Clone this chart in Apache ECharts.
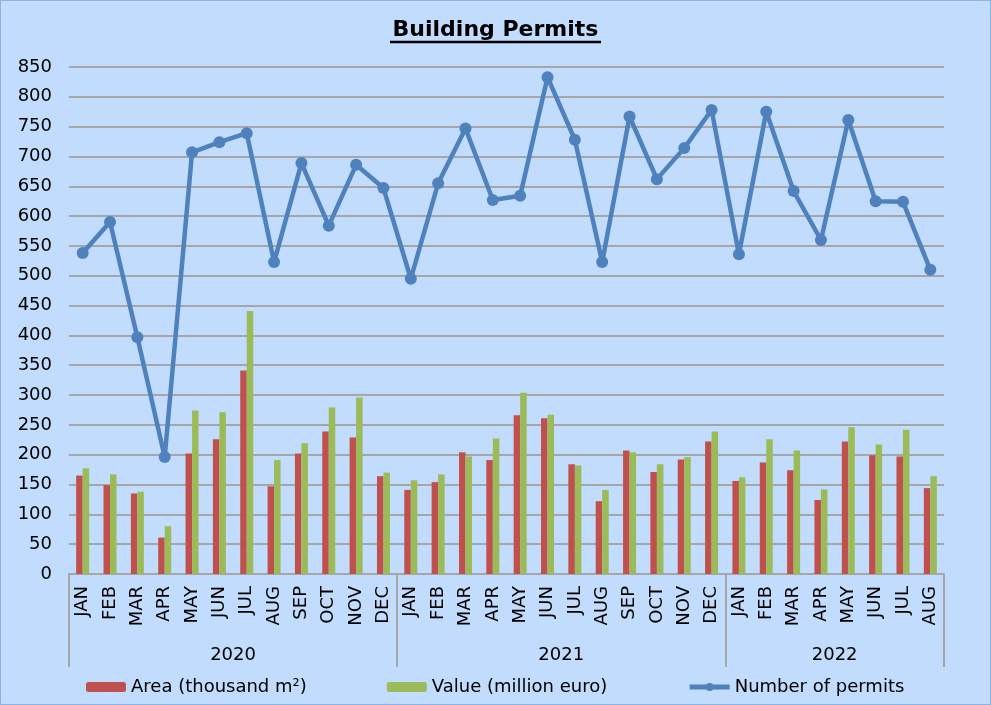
<!DOCTYPE html>
<html>
<head>
<meta charset="utf-8">
<script src="https://cdn.jsdelivr.net/npm/echarts@6/dist/echarts.min.js"></script>
<style>
  html, body { margin: 0; padding: 0; background: #C1DCFC; }
  #figure { width: 991px; height: 705px; box-sizing: border-box; border: 1px solid #8DB3E2; background: #C1DCFC; }
</style>
</head>
<body>
<div id="figure"></div>
<script>
var months = ['JAN', 'FEB', 'MAR', 'APR', 'MAY', 'JUN', 'JUL', 'AUG', 'SEP', 'OCT', 'NOV', 'DEC',
              'JAN', 'FEB', 'MAR', 'APR', 'MAY', 'JUN', 'JUL', 'AUG', 'SEP', 'OCT', 'NOV', 'DEC',
              'JAN', 'FEB', 'MAR', 'APR', 'MAY', 'JUN', 'JUL', 'AUG'];
var years = ['2020', '2021', '2022'];
var yearMonths = [12, 12, 8];

var area = [165, 149, 135, 61, 202, 226, 341, 147, 202, 239, 229, 164,
            141, 154, 204, 191, 266, 261, 184, 122, 207, 171, 192, 222,
            156, 187, 174, 124, 222, 199, 197, 144];
var value = [177, 167, 138, 80, 274, 271, 441, 191, 219, 279, 296, 170,
             157, 167, 197, 227, 304, 267, 182, 141, 204, 184, 196, 239,
             162, 226, 207, 142, 246, 217, 242, 164];
var permits = [538, 590, 397, 196, 707, 724, 739, 523, 689, 584, 686, 647,
               495, 655, 747, 627, 634, 833, 728, 523, 767, 662, 714, 778,
               536, 775, 642, 560, 761, 625, 624, 510];

// year group boundaries and centres on a 0..32 scale
var bounds = [0], centers = [], yearAt = {};
for (var i = 0; i < yearMonths.length; i++) {
    var start = bounds[bounds.length - 1];
    bounds.push(start + yearMonths[i]);
    centers.push(start + yearMonths[i] / 2);
    yearAt[start + yearMonths[i] / 2] = years[i];
}

var font = 'Verdana, "DejaVu Sans", sans-serif';
var gray = '#A6A6A6';

var figure = echarts.init(document.getElementById('figure'));
var option = {
    backgroundColor: '#C1DCFC',
    textStyle: { fontFamily: font },
    title: {
        text: 'Building Permits',
        left: 'center',
        top: 18,
        padding: 0,
        textStyle: { fontFamily: font, fontSize: 22, fontWeight: 'bold', color: '#000' }
    },
    graphic: [{
        type: 'line',
        shape: { x1: 389, y1: 41, x2: 600, y2: 41 },
        style: { stroke: '#000', lineWidth: 2.5 }
    }],
    grid: {
        left: 68,
        right: 46,
        top: 66,
        bottom: 130
    },
    legend: {
        left: 80,
        top: 672,
        itemWidth: 40,
        itemHeight: 10,
        itemGap: 80,
        textStyle: { fontFamily: font, fontSize: 18, color: '#000' },
        data: [
            'Area (thousand m²)',
            'Value (million euro)',
            { name: 'Number of permits', lineStyle: { width: 5 } }
        ]
    },
    xAxis: [{
        type: 'category',
        data: months,
        axisLine: { lineStyle: { color: gray, width: 2 } },
        axisTick: { show: false },
        axisLabel: {
            rotate: 90,
            margin: 12,
            interval: 0,
            fontSize: 18,
            color: '#000',
            fontFamily: font
        }
    }, {
        type: 'value',
        min: 0,
        max: 32,
        position: 'bottom',
        axisLine: { show: false },
        splitLine: { show: false },
        axisTick: {
            show: true,
            customValues: bounds,
            length: 93,
            lineStyle: { color: gray, width: 2 }
        },
        axisLabel: {
            customValues: centers,
            margin: 72,
            fontSize: 18,
            color: '#000',
            fontFamily: font,
            formatter: function (v) { return yearAt[v] || ''; }
        }
    }],
    yAxis: {
        type: 'value',
        min: 0,
        max: 850,
        interval: 50,
        axisLine: { show: false },
        axisTick: { show: false },
        axisLabel: { margin: 17, fontSize: 18, color: '#000', fontFamily: font },
        splitLine: { lineStyle: { color: gray, width: 2 } }
    },
    series: [{
        name: 'Area (thousand m²)',
        type: 'bar',
        barWidth: 6.5,
        barGap: '0%',
        itemStyle: { color: '#C0504D' },
        data: area
    }, {
        name: 'Value (million euro)',
        type: 'bar',
        barWidth: 6.5,
        itemStyle: { color: '#9BBB59' },
        data: value
    }, {
        name: 'Number of permits',
        type: 'line',
        symbol: 'circle',
        symbolSize: 12,
        z: 5,
        itemStyle: { color: '#4F81BD' },
        lineStyle: { color: '#4F81BD', width: 4.5 },
        data: permits
    }]
};

figure.setOption(option);
</script>
</body>
</html>
